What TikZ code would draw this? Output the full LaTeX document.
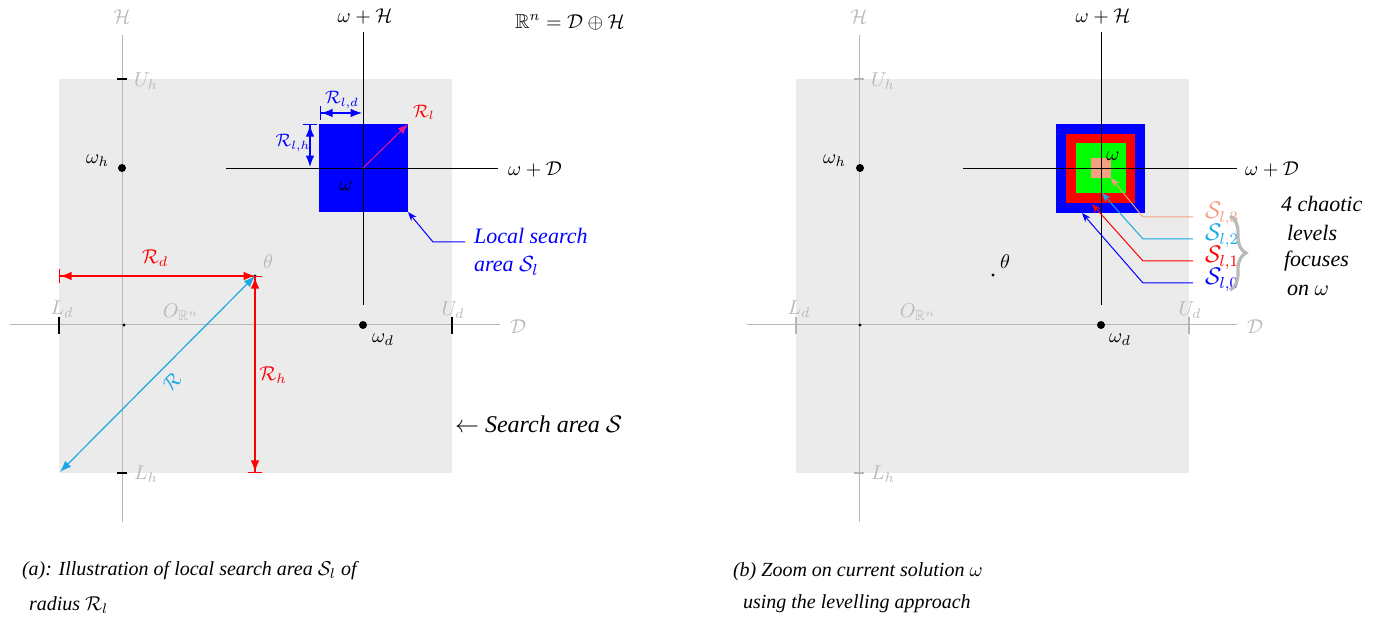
\documentclass[tikz,border=0pt]{standalone}
\usepackage{fontspec}
\setmainfont{Liberation Serif}
\usepackage{amssymb}
\usetikzlibrary{arrows.meta, positioning, decorations.pathreplacing}
\definecolor{areagray}{RGB}{235,235,235}
\definecolor{axisgray}{RGB}{182,182,182}
\definecolor{lblgray}{RGB}{185,185,185}
\definecolor{radcyan}{RGB}{25,168,230}
\definecolor{radpink}{RGB}{232,20,140}
\definecolor{lvlsalmon}{RGB}{245,160,128}
\definecolor{lvlgreen}{RGB}{0,255,0}

\begin{document}
\begin{tikzpicture}[x=0.5pt, y=-0.5pt,
  axis/.style={draw=axisgray, line width=0.5pt},
  waxis/.style={draw=black, line width=0.45pt},
  tickmark/.style={line width=0.8pt},
  glbl/.style={text=lblgray},
  bigdot/.style={circle, fill=black, inner sep=0pt, minimum size=4pt},
  smalldot/.style={circle, fill=black, inner sep=0pt, minimum size=1.6pt},
  dimarr/.style={line width=0.6pt, {Bar[width=2.6mm]Latex[length=2mm]}-{Latex[length=2mm]}},
  lvlarr/.style={line width=0.5pt, -{Stealth[length=1.6mm]}},
  captxt/.style={anchor=west, font=\itshape},
  sidetxt/.style={anchor=west, font=\fontsize{11}{14}\selectfont\itshape}
]
\useasboundingbox (0,0) rectangle (1389,624);

% ---------------- (a) local search area ----------------
\fill[areagray] (59,79) rectangle (452,473);
\fill[blue] (319,124) rectangle (408,212);
\coordinate (aHt) at (122,35);  \coordinate (aHb) at (122,522);
\coordinate (aDl) at (10,325);  \coordinate (aDr) at (500,325);
\draw[axis] (aHt) -- (aHb);
\draw[axis] (aDl) -- (aDr);
\node[glbl] (aH) at (122,17) {$\mathcal{H}$};
\node[glbl] (aD) at (518,327) {$\mathcal{D}$};
\draw[tickmark] (117,79) -- (127,79);
\draw[tickmark] (117,473) -- (127,473);
\draw[tickmark] (59,317) -- (59,334);
\draw[tickmark] (452,317) -- (452,334);
\node[glbl, anchor=west] (aUh) at (127,81) {$U_h$};
\node[glbl, anchor=west] (aLh) at (127,474) {$L_h$};
\node[glbl] (aLd) at (62,309) {$L_d$};
\node[glbl] (aUd) at (453,310) {$U_d$};
\node[glbl] (aO) at (181,312) {$O_{\mathbb{R}^n}$};
\node[smalldot] (aOdot) at (124,325) {};
\node[bigdot] (awh) at (122,168) {};
\node[anchor=east] (awhl) at (116,161) {$\omega_h$};
\node[bigdot] (awd) at (363,325) {};
\node (awdl) at (383,340) {$\omega_d$};

\coordinate (aWHt) at (363,32);  \coordinate (aWHb) at (363,305);
\coordinate (aWDl) at (226,168); \coordinate (aWDr) at (498,168);
\draw[waxis] (aWHt) -- (aWHb);
\draw[waxis] (aWDl) -- (aWDr);
\node (aWHl) at (365,17) {$\omega+\mathcal{H}$};
\node (aWDlab) at (535,170) {$\omega+\mathcal{D}$};
\node (rn) at (570,22) {$\mathbb{R}^n=\mathcal{D}\oplus\mathcal{H}$};

\coordinate (w) at (363,168);
\coordinate (sqNE) at (408,124);
\coordinate (sqSE) at (408,212);
\node (wl) at (346,186) {$\omega$};
\draw[radpink, line width=0.5pt, -{Latex[length=1.8mm]}] (w) -- (sqNE);
\node[text=red, font=\small] (Rl) at (424,112) {$\mathcal{R}_l$};

\coordinate (rldA) at (320,113); \coordinate (rldB) at (362,113);
\draw[blue, dimarr] (rldA) -- (rldB);
\node[text=blue, font=\small] (Rld) at (342,100) {$\mathcal{R}_{l,d}$};
\coordinate (rlhA) at (310,124); \coordinate (rlhB) at (310,167);
\draw[blue, dimarr] (rlhA) -- (rlhB);
\node[text=blue, font=\small] (Rlh) at (293,143) {$\mathcal{R}_{l,h}$};

\coordinate (lsA) at (465,242); \coordinate (lsB) at (433,242);
\draw[blue, lvlarr] (lsA) -- (lsB) -- (sqSE);
\node[text=blue, sidetxt, align=left] (lsl) at (467,252)
  {Local search\\area $\mathcal{S}_l$};

\node[smalldot] (th) at (255,276) {};
\node[glbl] (thl) at (268,262) {$\theta$};
\coordinate (rdA) at (59,276);
\draw[red, dimarr] (rdA) -- (th.center);
\node[text=red] (Rd) at (155,258) {$\mathcal{R}_d$};
\coordinate (rhB) at (255,473);
\draw[red, line width=0.6pt, {Bar[width=2.6mm]Latex[length=2mm]}-{Latex[length=2mm]Bar[width=2.6mm]}] (th.center) -- (rhB);
\node[text=red] (Rh) at (273,375) {$\mathcal{R}_h$};
\coordinate (rA) at (60,472);
\draw[radcyan, line width=0.6pt, {Latex[length=2mm]}-{Latex[length=2mm]}] (rA) -- (th.center);
\node[text=radcyan, rotate=45] (R) at (172,382) {$\mathcal{R}$};

\node[sidetxt, font=\large] (sa) at (448,424) {$\leftarrow$ \textit{Search area} $\mathcal{S}$};

\node[captxt] (capa1) at (15,571) {(a): Illustration of local search area $\mathcal{S}_l$ of};
\node[captxt] (capa2) at (22,605) {radius $\mathcal{R}_l$};

% ---------------- (b) levelling approach ----------------
\fill[areagray] (796,79) rectangle (1189,473);
\fill[blue] (1056,124) rectangle (1145,213);
\fill[red] (1066,134) rectangle (1135,203);
\fill[lvlgreen] (1076,143) rectangle (1126,193);
\fill[lvlsalmon] (1091,158) rectangle (1111,178);
\coordinate (bHt) at (859,35);  \coordinate (bHb) at (859,522);
\coordinate (bDl) at (747,325); \coordinate (bDr) at (1237,325);
\draw[axis] (bHt) -- (bHb);
\draw[axis] (bDl) -- (bDr);
\node[glbl] (bH) at (859,17) {$\mathcal{H}$};
\node[glbl] (bD) at (1255,327) {$\mathcal{D}$};
\draw[tickmark, axisgray] (854,79) -- (864,79);
\draw[tickmark, axisgray] (854,473) -- (864,473);
\draw[tickmark, axisgray] (796,317) -- (796,334);
\draw[tickmark, axisgray] (1189,317) -- (1189,334);
\node[glbl, anchor=west] (bUh) at (864,81) {$U_h$};
\node[glbl, anchor=west] (bLh) at (864,474) {$L_h$};
\node[glbl] (bLd) at (799,309) {$L_d$};
\node[glbl] (bUd) at (1190,310) {$U_d$};
\node[glbl] (bO) at (918,312) {$O_{\mathbb{R}^n}$};
\node[smalldot] (bOdot) at (860,325) {};
\node[bigdot] (bwh) at (860,168) {};
\node[anchor=east] (bwhl) at (853,161) {$\omega_h$};
\node[bigdot] (bwd) at (1101,325) {};
\node (bwdl) at (1120,340) {$\omega_d$};
\node[smalldot] (bth) at (993,275) {};
\node (bthl) at (1005,262) {$\theta$};

\coordinate (bWHt) at (1101,32);  \coordinate (bWHb) at (1101,305);
\coordinate (bWDl) at (963,168);  \coordinate (bWDr) at (1237,168);
\draw[waxis] (bWHt) -- (bWHb);
\draw[waxis] (bWDl) -- (bWDr);
\node (bWHl) at (1103,17) {$\omega+\mathcal{H}$};
\node (bWDlab) at (1272,170) {$\omega+\mathcal{D}$};
\node (bwl) at (1113,156) {$\omega$};

\coordinate (s3t) at (1111,178); \coordinate (s3m) at (1143,217); \coordinate (s3e) at (1193,217);
\coordinate (s2t) at (1102,193); \coordinate (s2m) at (1143,239); \coordinate (s2e) at (1193,239);
\coordinate (s1t) at (1092,204); \coordinate (s1m) at (1143,261); \coordinate (s1e) at (1193,261);
\coordinate (s0t) at (1082,213); \coordinate (s0m) at (1143,283); \coordinate (s0e) at (1193,283);
\draw[lvlsalmon, lvlarr] (s3e) -- (s3m) -- (s3t);
\draw[radcyan, lvlarr] (s2e) -- (s2m) -- (s2t);
\draw[red, lvlarr] (s1e) -- (s1m) -- (s1t);
\draw[blue, lvlarr] (s0e) -- (s0m) -- (s0t);
\node[text=lvlsalmon, font=\large, anchor=west] (S3) at (1198,214) {$\mathcal{S}_{l,3}$};
\node[text=radcyan, font=\large, anchor=west] (S2) at (1198,236) {$\mathcal{S}_{l,2}$};
\node[text=red, font=\large, anchor=west] (S1) at (1198,258) {$\mathcal{S}_{l,1}$};
\node[text=blue, font=\large, anchor=west] (S0) at (1198,280) {$\mathcal{S}_{l,0}$};
\draw[lblgray, line width=1.6pt, decorate, decoration={brace, amplitude=8pt}] (1230,216) -- (1230,290);
\node[sidetxt] (lv1) at (1274,204) {4 chaotic};
\node[sidetxt] (lv2) at (1280,233) {levels};
\node[sidetxt] (lv3) at (1277,261) {focuses};
\node[sidetxt] (lv4) at (1280,290) {on $\omega$};

\node[captxt] (capb1) at (726,572) {(b) Zoom on current solution $\omega$};
\node[captxt] (capb2) at (736,604) {using the levelling approach};
\end{tikzpicture}
\end{document}
